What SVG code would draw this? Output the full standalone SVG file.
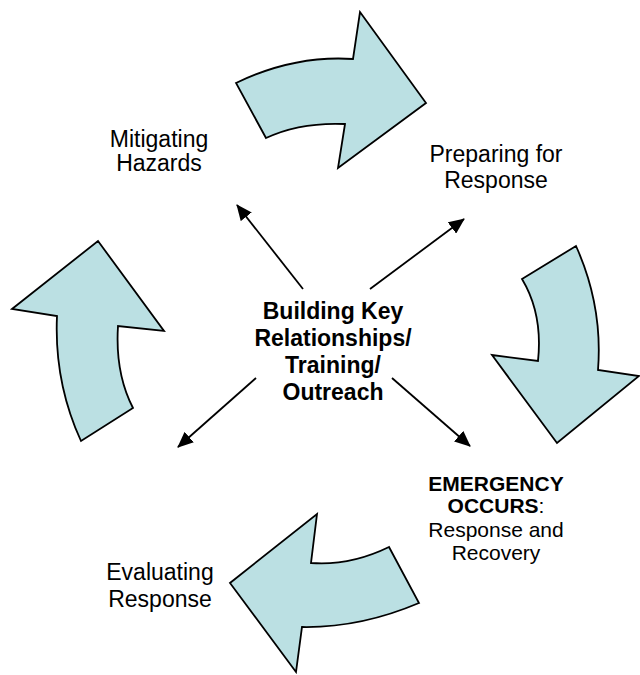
<svg xmlns="http://www.w3.org/2000/svg" width="640" height="675" viewBox="0 0 640 675">
<defs>
<style>
.big{fill:#BBE0E3;stroke:#000;stroke-width:1.8;stroke-linejoin:miter}
.t{font-family:"Liberation Sans",Arial,sans-serif;font-size:23px;fill:#000;text-anchor:middle}
.b{font-weight:bold}
.s{font-size:21px}
.c{stroke:#000;stroke-width:1.8;fill:none;marker-end:url(#ah)}
</style>
<marker id="ah" markerUnits="userSpaceOnUse" viewBox="0 0 16 14" refX="15" refY="7" markerWidth="16" markerHeight="14" orient="auto">
<path d="M0,0 L16,7 L0,14 Z" fill="#000"/>
</marker>
</defs>
<rect width="640" height="675" fill="#fff"/>
<g id="arrow-top"><path class="big" d="M236,83 Q294,55 353,59 L360,12 L426,103 L338,168 L345,124 Q300,122 266,138 Z"/></g>
<g id="arrow-right"><path class="big" d="M522,279 L576,246 Q603,306 598,370 L639,376 L557,443 L492,355 L538,361 Q543,314 522,279 Z"/></g>
<g id="arrow-bottom"><path class="big" d="M389,547 L419,603 Q360,628 302,627 L296,672 L230,583 L317,514 L311,563 Q350,566 389,547 Z"/></g>
<g id="arrow-left"><path class="big" d="M98,241 L164,331 L118,326 Q115,373 133,408 L81,441 Q54,382 57,316 L12,309 Z"/></g>
<g id="connectors">
<line class="c" x1="303" y1="289" x2="237" y2="205"/>
<line class="c" x1="370" y1="289" x2="464" y2="219"/>
<line class="c" x1="256" y1="378" x2="178" y2="447"/>
<line class="c" x1="392" y1="378" x2="470" y2="446"/>
</g>
<g id="center"><text class="t b" x="333" y="319">Building Key</text><text class="t b" x="333" y="346">Relationships/</text><text class="t b" x="333" y="373">Training/</text><text class="t b" x="333" y="400">Outreach</text></g>
<g id="mitigating"><text class="t" x="159" y="147">Mitigating</text><text class="t" x="159" y="171">Hazards</text></g>
<g id="preparing"><text class="t" x="496" y="162">Preparing for</text><text class="t" x="496" y="188">Response</text></g>
<g id="emergency"><text class="t s b" x="496" y="491">EMERGENCY</text><text class="t s" x="496" y="513"><tspan class="b">OCCURS</tspan>:</text><text class="t s" x="496" y="537">Response and</text><text class="t s" x="496" y="560">Recovery</text></g>
<g id="evaluating"><text class="t" x="160" y="580">Evaluating</text><text class="t" x="160" y="607">Response</text></g>
</svg>
